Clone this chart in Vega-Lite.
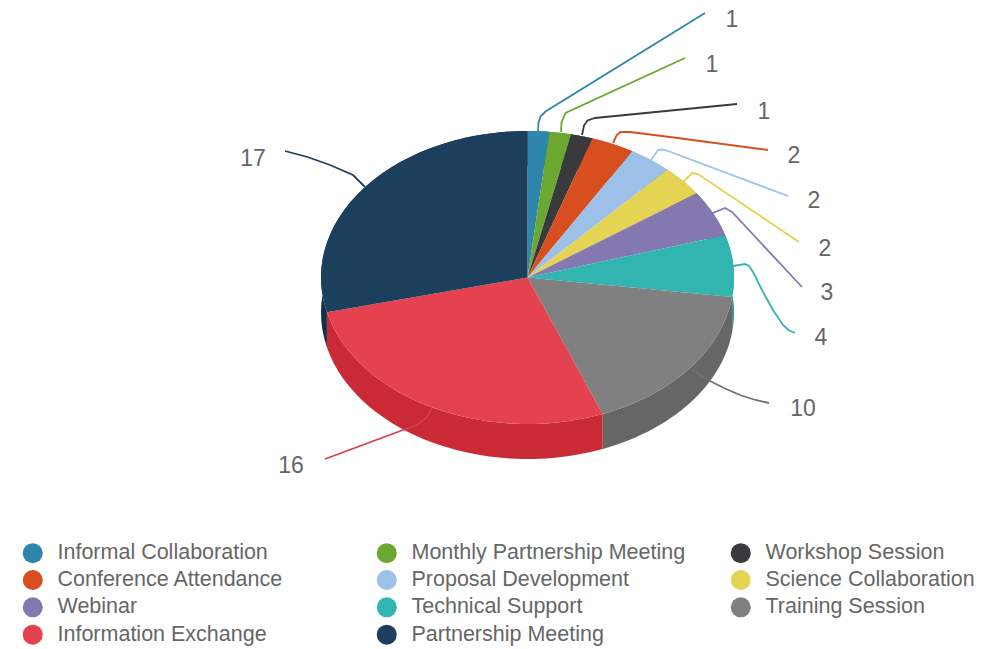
{
"$schema":"https://vega.github.io/schema/vega-lite/v6.json",
"width":1000,"height":649,"padding":0,"autosize":{"type":"none"},
"background":"white",
"config":{"view":{"stroke":null},"axis":{"domain":false}},
"datasets":{
"slices":[
{"rank":1,"category":"Informal Collaboration","value":1},
{"rank":2,"category":"Monthly Partnership Meeting","value":1},
{"rank":3,"category":"Workshop Session","value":1},
{"rank":4,"category":"Conference Attendance","value":2},
{"rank":5,"category":"Proposal Development","value":2},
{"rank":6,"category":"Science Collaboration","value":2},
{"rank":7,"category":"Webinar","value":3},
{"rank":8,"category":"Technical Support","value":4},
{"rank":9,"category":"Training Session","value":10},
{"rank":10,"category":"Information Exchange","value":16},
{"rank":11,"category":"Partnership Meeting","value":17}
],
"labels":[
{"category":"Informal Collaboration","value":1,"x":204.5,"y":258.5},
{"category":"Monthly Partnership Meeting","value":1,"x":184.5,"y":213.5},
{"category":"Workshop Session","value":1,"x":236.5,"y":166.5},
{"category":"Conference Attendance","value":2,"x":266.5,"y":122.5},
{"category":"Proposal Development","value":2,"x":286.5,"y":77.5},
{"category":"Science Collaboration","value":2,"x":297.5,"y":29.5},
{"category":"Webinar","value":3,"x":299.5,"y":-14.5},
{"category":"Technical Support","value":4,"x":293.5,"y":-59.5},
{"category":"Training Session","value":10,"x":275.5,"y":-130.5},
{"category":"Information Exchange","value":16,"x":-236.5,"y":-187.5},
{"category":"Partnership Meeting","value":17,"x":-274.5,"y":119.5}
],
"leaders":[
{"category":"Informal Collaboration","seq":1,"x":10.5,"y":145.5},
{"category":"Informal Collaboration","seq":2,"x":11,"y":155},
{"category":"Informal Collaboration","seq":3,"x":13,"y":161},
{"category":"Informal Collaboration","seq":4,"x":18,"y":166},
{"category":"Informal Collaboration","seq":5,"x":177.5,"y":264.5},
{"category":"Monthly Partnership Meeting","seq":1,"x":33.5,"y":145.5},
{"category":"Monthly Partnership Meeting","seq":2,"x":34,"y":155},
{"category":"Monthly Partnership Meeting","seq":3,"x":38,"y":164.5},
{"category":"Monthly Partnership Meeting","seq":4,"x":157.5,"y":219.5},
{"category":"Workshop Session","seq":1,"x":54.5,"y":142.5},
{"category":"Workshop Session","seq":2,"x":56.5,"y":152},
{"category":"Workshop Session","seq":3,"x":60,"y":157},
{"category":"Workshop Session","seq":4,"x":67.5,"y":159.5},
{"category":"Workshop Session","seq":5,"x":209.5,"y":173.5},
{"category":"Conference Attendance","seq":1,"x":85.5,"y":134.5},
{"category":"Conference Attendance","seq":2,"x":89,"y":142},
{"category":"Conference Attendance","seq":3,"x":93,"y":145.5},
{"category":"Conference Attendance","seq":4,"x":102.5,"y":145.5},
{"category":"Conference Attendance","seq":5,"x":142.5,"y":140.5},
{"category":"Conference Attendance","seq":6,"x":240.5,"y":127.5},
{"category":"Proposal Development","seq":1,"x":123.5,"y":117.5},
{"category":"Proposal Development","seq":2,"x":130.5,"y":127.5},
{"category":"Proposal Development","seq":3,"x":135,"y":128},
{"category":"Proposal Development","seq":4,"x":140.5,"y":126.5},
{"category":"Proposal Development","seq":5,"x":260.5,"y":81.5},
{"category":"Science Collaboration","seq":1,"x":155.5,"y":95.5},
{"category":"Science Collaboration","seq":2,"x":164.5,"y":104.5},
{"category":"Science Collaboration","seq":3,"x":170.5,"y":103.5},
{"category":"Science Collaboration","seq":4,"x":271.5,"y":35.5},
{"category":"Webinar","seq":1,"x":185.5,"y":64.5},
{"category":"Webinar","seq":2,"x":197.5,"y":69.5},
{"category":"Webinar","seq":3,"x":204.5,"y":65.5},
{"category":"Webinar","seq":4,"x":274.5,"y":-9.5},
{"category":"Technical Support","seq":1,"x":205.5,"y":11.5},
{"category":"Technical Support","seq":2,"x":217.5,"y":13.5},
{"category":"Technical Support","seq":3,"x":221.5,"y":11.5},
{"category":"Technical Support","seq":4,"x":225.5,"y":5.5},
{"category":"Technical Support","seq":5,"x":235.5,"y":-14.5},
{"category":"Technical Support","seq":6,"x":245.5,"y":-32.5},
{"category":"Technical Support","seq":7,"x":255.5,"y":-47.5},
{"category":"Technical Support","seq":8,"x":261,"y":-52.5},
{"category":"Technical Support","seq":9,"x":267.5,"y":-55.5},
{"category":"Training Session","seq":1,"x":163.5,"y":-91.5},
{"category":"Training Session","seq":2,"x":182.5,"y":-103.5},
{"category":"Training Session","seq":3,"x":197.5,"y":-111},
{"category":"Training Session","seq":4,"x":212.5,"y":-117.5},
{"category":"Training Session","seq":5,"x":228,"y":-122.5},
{"category":"Training Session","seq":6,"x":241.5,"y":-125.5},
{"category":"Information Exchange","seq":1,"x":-95.5,"y":-130.5},
{"category":"Information Exchange","seq":2,"x":-100.5,"y":-139.5},
{"category":"Information Exchange","seq":3,"x":-110.5,"y":-147.5},
{"category":"Information Exchange","seq":4,"x":-124.5,"y":-152.5},
{"category":"Information Exchange","seq":5,"x":-202.5,"y":-181.5},
{"category":"Partnership Meeting","seq":1,"x":-162.5,"y":90.5},
{"category":"Partnership Meeting","seq":2,"x":-174.5,"y":102.5},
{"category":"Partnership Meeting","seq":3,"x":-197.5,"y":112.5},
{"category":"Partnership Meeting","seq":4,"x":-220,"y":120.5},
{"category":"Partnership Meeting","seq":5,"x":-242.5,"y":126.5}
]
},
"layer":[
{
"data":{"name":"slices"},
"transform":[
{"window":[{"op":"sum","field":"value","as":"end"}],"sort":[{"field":"rank"}]},
{"joinaggregate":[{"op":"sum","field":"value","as":"total"}]},
{"calculate":"sequence(0,62)","as":"step"},
{"flatten":["step"]},
{"calculate":"2*PI*(datum.end-datum.value*(1-(datum.step<=30?datum.step:61-datum.step)/30))/datum.total","as":"angle"},
{"calculate":"206.5*sin(datum.angle)","as":"px"},
{"calculate":"146.5*cos(datum.angle)-(datum.step<=30?0:35)","as":"py"}
],
"mark":{"type":"line","strokeWidth":0,"interpolate":"linear"},
"encoding":{
"x":{"field":"px","type":"quantitative","axis":null,"scale":{"domain":[-527.5,472.5],"nice":false,"zero":false}},
"y":{"field":"py","type":"quantitative","axis":null,"scale":{"domain":[-371.5,277.5],"nice":false,"zero":false}},
"order":{"field":"step"},
"fill":{"field":"category","type":"nominal","legend":null,"scale":{
"domain":["Informal Collaboration","Monthly Partnership Meeting","Workshop Session","Conference Attendance","Proposal Development","Science Collaboration","Webinar","Technical Support","Training Session","Information Exchange","Partnership Meeting"],
"range":["#246b8a","#558628","#2e2e30","#ae3e19","#7d9ab9","#b7a943","#6a608d","#28908d","#666666","#c92a35","#142f49"]}}
}
},
{
"data":{"name":"slices"},
"transform":[
{"window":[{"op":"sum","field":"value","as":"end"}],"sort":[{"field":"rank"}]},
{"joinaggregate":[{"op":"sum","field":"value","as":"total"}]},
{"calculate":"sequence(-1,31)","as":"step"},
{"flatten":["step"]},
{"calculate":"2*PI*(datum.end-datum.value*(1-datum.step/30))/datum.total","as":"angle"},
{"calculate":"datum.step<0?0:206.5*sin(datum.angle)","as":"px"},
{"calculate":"datum.step<0?0:146.5*cos(datum.angle)","as":"py"}
],
"mark":{"type":"line","strokeWidth":0,"interpolate":"linear"},
"encoding":{
"x":{"field":"px","type":"quantitative"},
"y":{"field":"py","type":"quantitative"},
"order":{"field":"step"},
"fill":{"field":"category","type":"nominal","scale":{
"domain":["Informal Collaboration","Monthly Partnership Meeting","Workshop Session","Conference Attendance","Proposal Development","Science Collaboration","Webinar","Technical Support","Training Session","Information Exchange","Partnership Meeting"],
"range":["#2e86ad","#6aa832","#3a3a3c","#d94e1f","#9cc0e7","#e5d354","#8478b0","#32b5b0","#808080","#e3424e","#1c3f5e"]},
"legend":{"title":null,"orient":"none","legendX":22,"legendY":542,"columns":3,"direction":"horizontal","gridAlign":"all","symbolType":"circle","symbolSize":400,"symbolStrokeWidth":0,"symbolOpacity":1,"labelOffset":14,"labelFontSize":21.5,"labelLimit":500,"labelFont":"Liberation Sans","labelColor":"#666666","columnPadding":44,"rowPadding":4.3,"padding":0,"symbolFillColor":null}}
}
},
{
"data":{"name":"leaders"},
"mark":{"type":"line","strokeWidth":1.8,"interpolate":"linear"},
"encoding":{
"x":{"field":"x","type":"quantitative"},
"y":{"field":"y","type":"quantitative"},
"order":{"field":"seq"},
"stroke":{"field":"category","type":"nominal","legend":null,"scale":{
"domain":["Informal Collaboration","Monthly Partnership Meeting","Workshop Session","Conference Attendance","Proposal Development","Science Collaboration","Webinar","Technical Support","Training Session","Information Exchange","Partnership Meeting"],
"range":["#2e86ad","#6aa832","#3a3a3c","#d94e1f","#9cc0e7","#e5d354","#8478b0","#32b5b0","#707070","#d8404c","#1c3f5e"]}}
}
},
{
"data":{"name":"labels"},
"mark":{"type":"text","font":"Liberation Sans","fontSize":23,"color":"#666666","align":"center","baseline":"middle","dy":1},
"encoding":{
"x":{"field":"x","type":"quantitative"},
"y":{"field":"y","type":"quantitative"},
"text":{"field":"value","type":"quantitative"}
}
}
],
"resolve":{"scale":{"fill":"independent"}}
}
